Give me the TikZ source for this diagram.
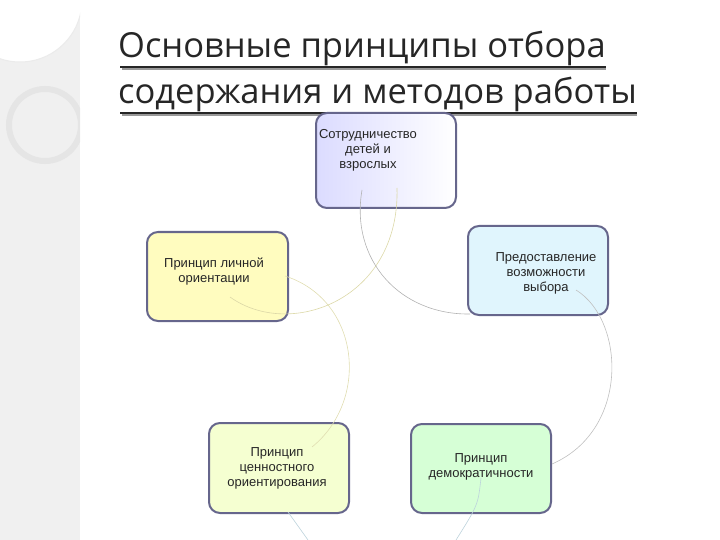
\documentclass[tikz,border=0pt]{standalone}
\usepackage{fontspec}
\setmainfont{Liberation Sans}
\newfontfamily\titlefont{Open Sans}
\begin{document}
\begin{tikzpicture}[x=1pt,y=-1pt,
  box/.style={draw=black!75!blue!60,line width=2pt,rounded corners=11pt,align=center,inner sep=0pt},
  lbl/.style={align=center,font=\fontsize{13}{15}\selectfont,text=black!85},
  arc/.style={line width=0.6pt}]
\useasboundingbox (0,0) rectangle (720,540);
\fill[black!6] (0,0) rectangle (80,540);
\begin{scope}
\clip (0,0) rectangle (80,540);
\fill[white] (20,0) circle (62);
\draw[black!8,line width=1pt] (20,0) circle (62);
\draw[black!10,line width=6pt] (45,125) circle (36);
\end{scope}
% title
\node[anchor=base west,font=\titlefont\fontsize{34.5}{37}\selectfont,text=black!85,inner sep=0pt] (t1) at (118,58) {Основные принципы отбора};
\node[anchor=base west,font=\titlefont\fontsize{34.5}{37}\selectfont,text=black!85,inner sep=0pt] (t2) at (118,104) {содержания и методов работы};
\draw[black!40,line width=2.5pt] (122,69) -- (t1.east |- 0,69);
\draw[black!85,line width=2pt] (120,67) -- (t1.east |- 0,67);
\draw[black!40,line width=2.5pt] (122,115) -- (t2.east |- 0,115);
\draw[black!85,line width=2pt] (120,113) -- (t2.east |- 0,113);
% boxes
\node[box,left color=blue!14,right color=white,minimum width=140pt,minimum height=95pt,anchor=north west] (a) at (315,112) {};
\node[lbl,anchor=north] (at) at (368,126) {Сотрудничество\\детей и\\взрослых};
\node[box,fill=yellow!25,minimum width=141pt,minimum height=89pt,anchor=north west] (b) at (146,231) {};
\node[lbl] (bt) at (214,272) {Принцип личной\\ориентации};
\node[box,fill=cyan!12,minimum width=140pt,minimum height=89pt,anchor=north west] (c) at (467,225) {};
\node[lbl] (ct) at (546,273) {Предоставление\\возможности\\выбора};
\node[box,fill=green!22!yellow!18,minimum width=140pt,minimum height=90pt,anchor=north west] (d) at (208,422) {};
\node[lbl] (dt) at (277,468) {Принцип\\ценностного\\ориентирования};
\node[box,fill=green!16,minimum width=140pt,minimum height=89pt,anchor=north west] (e) at (410,423) {};
\node[lbl] (et) at (481,467) {Принцип\\демократичности};
% arcs
\coordinate (p1) at (397,188);
\coordinate (q1) at (230,297);
\draw[arc,yellow!60!black!40] (p1) .. controls (400,300) and (290,340) .. (q1);
\coordinate (p2) at (362,190);
\coordinate (q2) at (470,314);
\draw[arc,black!30] (p2) .. controls (350,260) and (400,315) .. (q2);
\coordinate (p3) at (285,276);
\coordinate (q3) at (312,447);
\draw[arc,yellow!60!black!35] (p3) .. controls (360,300) and (370,400) .. (q3);
\coordinate (p4) at (576,290);
\coordinate (q4) at (552,464);
\draw[arc,black!25] (p4) .. controls (625,320) and (630,430) .. (q4);
\coordinate (p5) at (288,512);
\coordinate (q5) at (308,540);
\draw[arc,cyan!50!black!30] (p5) -- (q5);
\coordinate (p6) at (481,478);
\coordinate (q6) at (456,540);
\draw[arc,cyan!50!black!30] (p6) .. controls (478,505) .. (q6);
\end{tikzpicture}
\end{document}
